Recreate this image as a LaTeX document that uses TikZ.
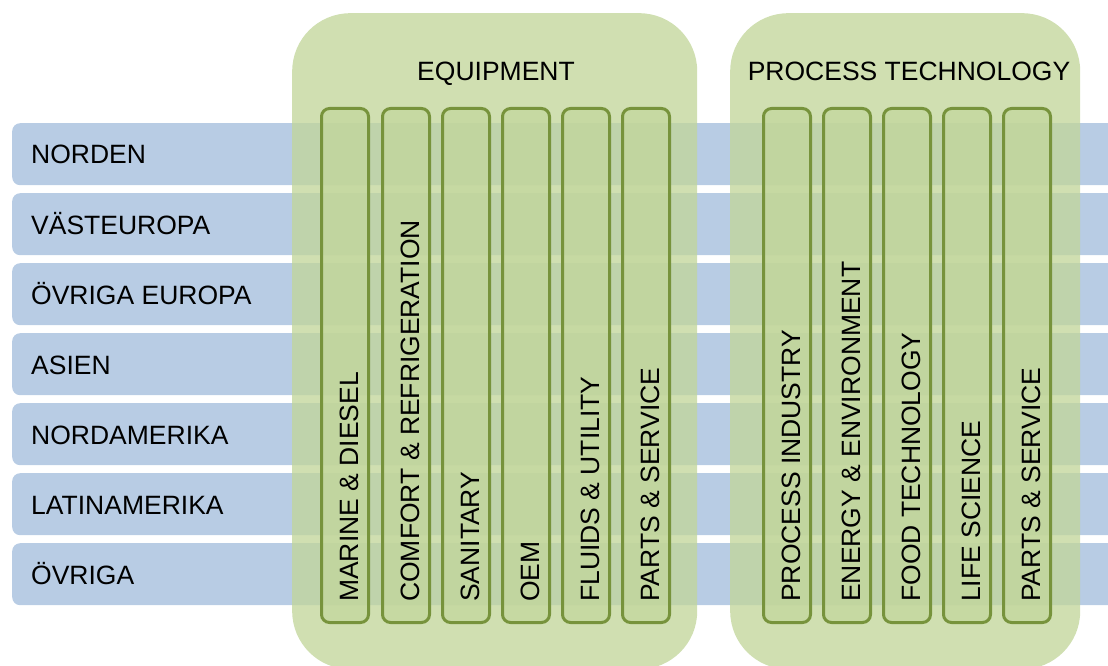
\documentclass[tikz,border=0pt]{standalone}
\usepackage{fontspec}
\setmainfont{Liberation Sans}
\definecolor{rowblue}{HTML}{B8CCE4}
\definecolor{olive}{HTML}{C2D69B}
\definecolor{oliveline}{HTML}{77933C}
\tikzset{
  rowbar/.style={fill=rowblue, draw=none, rounded corners=8pt},
  rowtext/.style={anchor=base west, inner sep=0pt, font=\fontsize{26.5}{29}\selectfont},
  group/.style={fill=olive, fill opacity=0.775, draw=none, rounded corners=58pt},
  grouptext/.style={anchor=base, inner sep=0pt, font=\fontsize{26.5}{29}\selectfont},
  segment/.style={fill=olive, fill opacity=0.7, draw=oliveline, line width=3pt, rounded corners=8pt},
  segtext/.style={rotate=90, anchor=base west, inner sep=0pt, font=\fontsize{26.5}{29}\selectfont},
}
\begin{document}
\begin{tikzpicture}[x=1pt,y=-1pt]
\useasboundingbox (0,0) rectangle (1108,666);
\clip (0,0) rectangle (1108,666);

% regions (rows)
\foreach \i/\name in {0/NORDEN,1/VÄSTEUROPA,2/ÖVRIGA EUROPA,3/ASIEN,4/NORDAMERIKA,5/LATINAMERIKA,6/ÖVRIGA}{
  \node[rowbar, anchor=north west, minimum width=1120pt, minimum height=62pt, inner sep=0pt]
    (row\i) at (12,{123+70*\i}) {};
  \node[rowtext] (rowlabel\i) at (31,{164+70*\i}) {\name};
}

% business areas
\node[group, anchor=north west, minimum width=405pt, minimum height=656pt, inner sep=0pt] (equip) at (292,13) {};
\node[group, anchor=north west, minimum width=350pt, minimum height=656pt, inner sep=0pt] (proc) at (730,13) {};
\node[grouptext] (equiplabel) at (496,81) {EQUIPMENT};
\node[grouptext] (proclabel) at (909,81) {PROCESS TECHNOLOGY};

% divisions
\foreach \x/\name [count=\k] in {320/MARINE \& DIESEL,381/COMFORT \& REFRIGERATION,441/SANITARY,501/OEM,561/FLUIDS \& UTILITY,621/PARTS \& SERVICE,
                                 762/PROCESS INDUSTRY,822/ENERGY \& ENVIRONMENT,882/FOOD TECHNOLOGY,942/LIFE SCIENCE,1002/PARTS \& SERVICE}{
  \node[segment, anchor=north west, minimum width=47pt, minimum height=514pt, inner sep=0pt] (seg\k) at (\x,107) {};
  \node[segtext] (seglabel\k) at ({\x+23.5+14.5},602) {\name};
}
\end{tikzpicture}
\end{document}
